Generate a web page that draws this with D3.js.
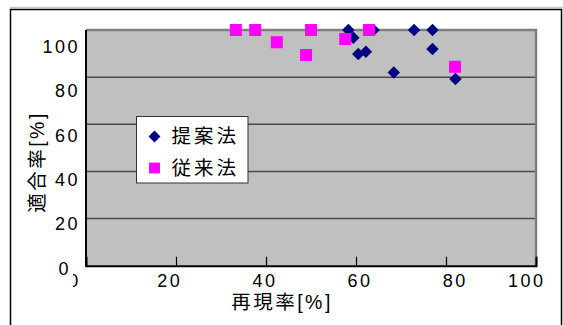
<!DOCTYPE html>
<html>
<head>
<meta charset="utf-8">
<script src="https://cdnjs.cloudflare.com/ajax/libs/d3/7.8.5/d3.min.js"></script>
<style>
  body { margin: 0; background: #fff; }
  svg text { font-family: "Liberation Sans", Arial, "Noto Sans CJK JP", sans-serif; fill: #000; }
</style>
</head>
<body>
<div id="chart"></div>
<script>
// 提案法 (proposed) : [再現率, 適合率]
var proposed = [
  [58.3, 100], [59.4, 96.7], [60.5, 89.8], [62.2, 90.8], [63.9, 100],
  [68.4, 82], [72.9, 100], [77.0, 100], [77.0, 91.9], [82.1, 79.2]
];
// 従来法 (conventional)
var conventional = [
  [33.3, 100], [37.6, 100], [42.4, 94.8], [48.9, 89.4], [50, 100],
  [57.6, 96.2], [62.9, 100], [82, 84.4]
];
var ticks = [0, 20, 40, 60, 80, 100];
var seriesNames = ["提案法", "従来法"];
var xTitle = "再現率[%]";
var yTitle = "適合率[%]";

var width = 563, height = 325;
var plot = {left: 86, right: 536, top: 30, bottom: 265.7};

var svg = d3.select("#chart").append("svg")
    .attr("width", width)
    .attr("height", height);

// outer frame
svg.append("line")
    .attr("x1", 10).attr("x2", width).attr("y1", 7.5).attr("y2", 7.5)
    .attr("stroke", "#c8c8c8").attr("stroke-width", 1.5);
svg.append("rect")
    .attr("x", 10.5).attr("y", 9.5)
    .attr("width", 551).attr("height", 340)
    .attr("fill", "none").attr("stroke", "#000").attr("stroke-width", 1.5);

var x = d3.scaleLinear().domain([0, 100]).range([plot.left, plot.right]);
var y = d3.scaleLinear().domain([0, 100]).range([plot.bottom, plot.top]);
// tick labels in the picture sit on their own, slightly uneven spacing
var xLab = d3.scaleLinear().domain([0, 100]).range([74, 550]);
var yLab = d3.scaleLinear().domain([0, 100]).range([268, 46]);

// plot background
svg.append("rect")
    .attr("x", plot.left).attr("y", plot.top)
    .attr("width", plot.right - plot.left)
    .attr("height", plot.bottom - plot.top)
    .attr("fill", "#c0c0c0");

// gridlines
svg.append("g")
    .selectAll("line")
    .data(ticks.filter(function(d){ return d > 0 && d < 100; }))
    .enter().append("line")
    .attr("x1", plot.left).attr("x2", plot.right)
    .attr("y1", function(d){ return y(d); })
    .attr("y2", function(d){ return y(d); })
    .attr("stroke", "#4a4a4a").attr("stroke-width", 1.5);

// top / right border of plot area
svg.append("path")
    .attr("d", "M" + plot.left + "," + plot.top + "H" + plot.right + "V" + plot.bottom)
    .attr("fill", "none").attr("stroke", "#808080").attr("stroke-width", 2.5);

// x axis (ticks point inward)
var xAxis = d3.axisBottom(x).tickValues(ticks).tickSize(-9).tickFormat("");
svg.append("g")
    .attr("transform", "translate(0," + plot.bottom + ")")
    .call(xAxis)
    .call(function(g){
      g.select(".domain").attr("stroke", "#000").attr("stroke-width", 2);
      g.selectAll(".tick line").attr("stroke", "#000").attr("stroke-width", 1.2);
    });

// y axis line
svg.append("line")
    .attr("x1", plot.left).attr("x2", plot.left)
    .attr("y1", plot.top).attr("y2", plot.bottom + 1)
    .attr("stroke", "#000").attr("stroke-width", 2);

// tick labels
svg.append("clipPath").attr("id", "xclip")
    .append("rect").attr("x", 73).attr("y", -20).attr("width", 490).attr("height", 40);

var xLabels = svg.append("g")
    .attr("clip-path", "url(#xclip)")
    .attr("transform", "translate(0,281)")
    .call(d3.axisBottom(xLab).tickValues(ticks).tickSize(0).tickPadding(0));
xLabels.select(".domain").remove();
xLabels.selectAll("text")
    .attr("y", 0).attr("dy", "0.35em")
    .attr("font-size", 18).attr("letter-spacing", 2.5)
    .attr("font-family", null);
xLabels.selectAll("text")
    .filter(function(d){ return d === 100; })
    .attr("text-anchor", "end").attr("dx", -5);

var yLabels = svg.append("g")
    .attr("transform", "translate(78,0)")
    .call(d3.axisLeft(yLab).tickValues(ticks).tickSize(0).tickPadding(-2));
yLabels.select(".domain").remove();
yLabels.selectAll("text")
    .attr("dy", "0.35em")
    .attr("font-size", 18).attr("letter-spacing", 2.5)
    .attr("font-family", null);
yLabels.selectAll("text")
    .filter(function(d){ return d === 0; })
    .attr("dx", -9);

// axis titles
svg.append("text")
    .attr("x", 282).attr("y", 302.5).attr("dy", "0.35em")
    .attr("text-anchor", "middle")
    .attr("font-size", 19.5).attr("letter-spacing", 2.5)
    .text(xTitle);
svg.append("text")
    .attr("transform", "translate(37,162) rotate(-90)")
    .attr("dy", "0.35em")
    .attr("text-anchor", "middle")
    .attr("font-size", 19.5).attr("letter-spacing", 2.5)
    .text(yTitle);

var diamond = d3.symbol().type(d3.symbolDiamond2).size(100);
var navy = "#000080", magenta = "#ff00ff";

svg.append("g").selectAll("path")
    .data(proposed)
    .enter().append("path")
    .attr("d", diamond)
    .attr("transform", function(d){ return "translate(" + x(d[0]) + "," + y(d[1]) + ")"; })
    .attr("fill", navy);

svg.append("g").selectAll("rect")
    .data(conventional)
    .enter().append("rect")
    .attr("x", function(d){ return x(d[0]) - 6; })
    .attr("y", function(d){ return y(d[1]) - 6; })
    .attr("width", 12).attr("height", 12)
    .attr("fill", magenta);

// legend
var legend = svg.append("g").attr("transform", "translate(136.5,116.5)");
legend.append("rect")
    .attr("width", 111.5).attr("height", 66.5)
    .attr("fill", "#fff").attr("stroke", "#333").attr("stroke-width", 1);
var items = legend.selectAll(".item")
    .data(seriesNames)
    .enter().append("g")
    .attr("class", "item")
    .attr("transform", function(d, i){ return "translate(18," + (20 + i * 31.5) + ")"; });
items.append("path")
    .attr("d", function(d, i){
      return d3.symbol().type(i === 0 ? d3.symbolDiamond2 : d3.symbolSquare2).size(i === 0 ? 90 : 150)();
    })
    .attr("fill", function(d, i){ return i === 0 ? navy : magenta; });
items.append("text")
    .attr("x", 17).attr("dy", "0.35em")
    .attr("font-size", 19.5).attr("letter-spacing", 3)
    .text(function(d){ return d; });
</script>
</body>
</html>
